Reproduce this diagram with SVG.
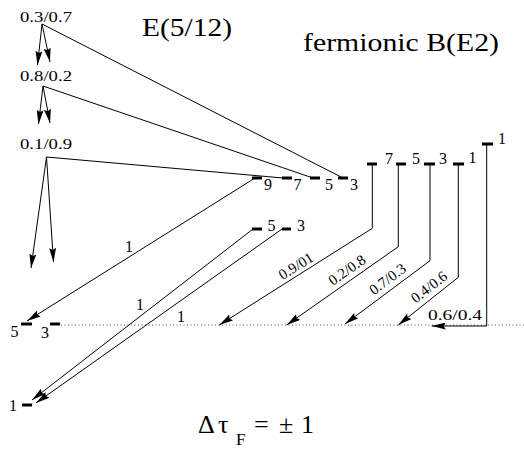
<svg xmlns="http://www.w3.org/2000/svg" width="524" height="451" viewBox="0 0 524 451">
<style>
.s{font-size:15px}
.lv{font-size:16px}
.t{font-size:26px}
.ln{fill:none;stroke:#000;stroke-width:1}
.bar{stroke:#000;stroke-width:3}
.dot{stroke:#555;stroke-width:1;stroke-dasharray:1 2.5}
</style>
<defs>
<marker id="ah" viewBox="0 0 14 7" refX="14" refY="3.5" markerWidth="14" markerHeight="7" orient="auto" markerUnits="userSpaceOnUse">
<path d="M0,0 L14,3.5 L0,7 L2,3.5 z" fill="#000"/>
</marker>
</defs>
<rect width="524" height="451" fill="#fff"/>
<line class="dot" x1="61" y1="325" x2="524" y2="325"/>
<g font-family="'Liberation Serif', serif" fill="#000">
<g id="titles">
<text class="t" x="142" y="36" textLength="90" lengthAdjust="spacingAndGlyphs">E(5/12)</text>
<text class="t" x="303" y="51" textLength="196" lengthAdjust="spacingAndGlyphs">fermionic B(E2)</text>
</g>
<g id="mix-labels">
<text class="s" x="20" y="22" textLength="52" lengthAdjust="spacingAndGlyphs">0.3/0.7</text>
<text class="s" x="20" y="81" textLength="52" lengthAdjust="spacingAndGlyphs">0.8/0.2</text>
<text class="s" x="20" y="149" textLength="52" lengthAdjust="spacingAndGlyphs">0.1/0.9</text>
</g>
<g id="levels-E">
<line class="bar" x1="252" y1="178" x2="262" y2="178"/><text class="lv" x="268" y="190" text-anchor="middle">9</text>
<line class="bar" x1="282" y1="178" x2="292" y2="178"/><text class="lv" x="297.5" y="190" text-anchor="middle">7</text>
<line class="bar" x1="310" y1="178" x2="320" y2="178"/><text class="lv" x="329" y="190" text-anchor="middle">5</text>
<line class="bar" x1="338" y1="178" x2="348" y2="178"/><text class="lv" x="354" y="190" text-anchor="middle">3</text>
</g>
<g id="levels-E-low">
<line class="bar" x1="252" y1="229" x2="262" y2="229"/><text class="lv" x="271.5" y="231" text-anchor="middle">5</text>
<line class="bar" x1="282" y1="229" x2="291" y2="229"/><text class="lv" x="301" y="231" text-anchor="middle">3</text>
</g>
<g id="levels-B">
<line class="bar" x1="367" y1="164" x2="377" y2="164"/><text class="lv" x="389" y="164" text-anchor="middle">7</text>
<line class="bar" x1="396" y1="164" x2="406" y2="164"/><text class="lv" x="416" y="164" text-anchor="middle">5</text>
<line class="bar" x1="424" y1="164" x2="435" y2="164"/><text class="lv" x="443" y="164" text-anchor="middle">3</text>
<line class="bar" x1="453" y1="164" x2="464" y2="164"/><text class="lv" x="472.5" y="163" text-anchor="middle">1</text>
<line class="bar" x1="482" y1="144" x2="493" y2="144"/><text class="lv" x="502" y="144" text-anchor="middle">1</text>
</g>
<g id="levels-ground">
<line class="bar" x1="21" y1="324" x2="32" y2="324"/><text class="lv" x="14.5" y="337" text-anchor="middle">5</text>
<line class="bar" x1="50" y1="324" x2="60" y2="324"/><text class="lv" x="45" y="338" text-anchor="middle">3</text>
<line class="bar" x1="22" y1="405" x2="32" y2="405"/><text class="lv" x="13" y="411" text-anchor="middle">1</text>
</g>
<g id="connectors">
<path class="ln" d="M42,24 L37.5,65" marker-end="url(#ah)"/>
<path class="ln" d="M42,24 L50,62" marker-end="url(#ah)"/>
<path class="ln" d="M42,24 L343,178"/>
<path class="ln" d="M43,86 L38.5,124" marker-end="url(#ah)"/>
<path class="ln" d="M43,86 L50,123" marker-end="url(#ah)"/>
<path class="ln" d="M43,86 L313,178"/>
<path class="ln" d="M46.5,157 L31,268" marker-end="url(#ah)"/>
<path class="ln" d="M46.5,157 L53.5,262" marker-end="url(#ah)"/>
<path class="ln" d="M46.5,157 L283,178"/>
<path class="ln" d="M255,178 L27,321" marker-end="url(#ah)"/>
<path class="ln" d="M253,229 L32,400" marker-end="url(#ah)"/>
<path class="ln" d="M282,229 L36,403" marker-end="url(#ah)"/>
<path class="ln" d="M372.3,164 L372.3,228.3 L219.3,325" marker-end="url(#ah)"/>
<path class="ln" d="M398.3,164 L398.3,246.7 L286.7,325" marker-end="url(#ah)"/>
<path class="ln" d="M430,164 L430,260.7 L345,324" marker-end="url(#ah)"/>
<path class="ln" d="M458.3,164 L458.3,277.3 L398.3,325" marker-end="url(#ah)"/>
<path class="ln" d="M486.7,144 L486.7,326 L431.7,326" marker-end="url(#ah)"/>
</g>
<g id="connector-labels">
<text class="lv" x="129" y="251.5" text-anchor="middle">1</text>
<text class="lv" x="140" y="310" text-anchor="middle">1</text>
<text class="lv" x="181" y="321.5" text-anchor="middle">1</text>
<text class="s" text-anchor="middle" transform="translate(296,266) rotate(-32)" y="5">0.9/01</text>
<text class="s" text-anchor="middle" transform="translate(347,270) rotate(-35)" y="5">0.2/0.8</text>
<text class="s" text-anchor="middle" transform="translate(387.5,279) rotate(-37)" y="5">0.7/0.3</text>
<text class="s" text-anchor="middle" transform="translate(429,287) rotate(-38)" y="5">0.4/0.6</text>
<text class="s" x="428" y="320" textLength="54" lengthAdjust="spacingAndGlyphs">0.6/0.4</text>
</g>
<g id="formula">
<text class="t" x="198" y="433">Δ</text>
<text class="t" x="218" y="433">τ</text>
<text x="236" y="445" font-size="17">F</text>
<text class="t" x="254" y="433">=</text>
<text class="t" x="279" y="433">±</text>
<text class="t" x="301" y="433">1</text>
</g>
</g>
</svg>
